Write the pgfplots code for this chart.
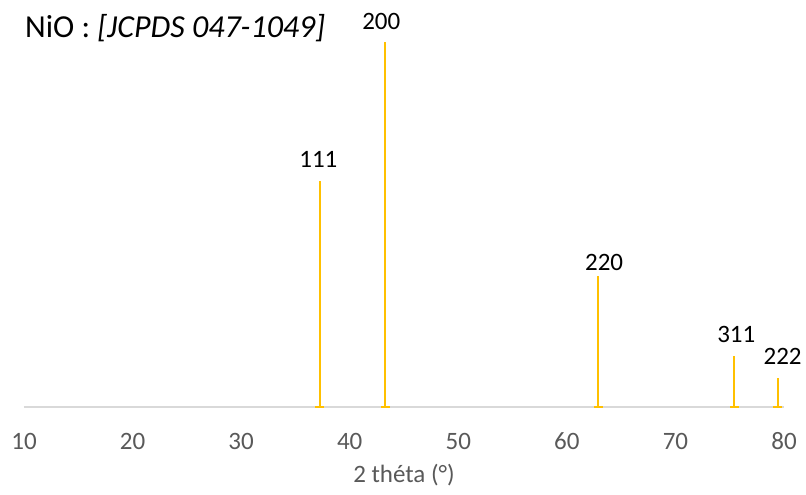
\documentclass[border=0pt]{standalone}
\usepackage{pgfplots}
\usepackage{pgfplotstable}
\pgfplotsset{compat=1.18}
\usepackage{fontspec}
\setmainfont{Carlito}
\definecolor{peak}{HTML}{FFC000}
\definecolor{axisgray}{HTML}{D9D9D9}
\definecolor{ticktext}{HTML}{595959}
\pgfplotstableread{
x y z dx dy lab
37.25 62 0 -1.5 0 111
43.28 100 0 -4 -1 200
62.88 36 0 6 -8 220
75.42 14 0 2 0 311
79.41 8 0 5 0 222
}\peaks
\begin{document}
\begin{tikzpicture}
\useasboundingbox (-24bp,-88bp) rectangle (782bp,407bp);
\begin{axis}[
  at={(0,0)}, anchor=south west,
  scale only axis,
  width=760bp, height=365bp,
  xmin=10, xmax=80, ymin=0, ymax=100,
  clip=false,
  axis x line=bottom,
  axis y line=none,
  x axis line style={axisgray, line width=1.5bp, -},
  xtick={10,20,...,80},
  major tick length=0pt,
  /pgf/number format/assume math mode=true,
  xticklabel style={anchor=center, yshift=-34bp, text=ticktext, font=\fontsize{25bp}{29bp}\selectfont},
  xlabel={2 théta (°)},
  xlabel style={at={(axis description cs:0.5,0)}, anchor=center, yshift=-68bp, text=ticktext, font=\fontsize{25bp}{29bp}\selectfont},
]
\addplot[ycomb, draw=peak, line width=1.8bp,
  visualization depends on=\thisrow{dx} \as \dx,
  visualization depends on=\thisrow{dy} \as \dy,
  nodes near coords, point meta=explicit symbolic,
  nodes near coords style={anchor=south, inner sep=0pt, xshift=\dx bp, yshift=12bp+\dy bp, text=black, font=\fontsize{25bp}{29bp}\selectfont}]
  table[x=x, y=y, meta=lab]{\peaks};
\addplot[only marks, mark=-, mark size=4.5bp, draw=peak, line width=1.5bp]
  table[x=x, y=z]{\peaks};
\end{axis}
\node[anchor=base west, inner sep=0pt, font=\fontsize{32bp}{36bp}\selectfont] at (1bp,369bp) {NiO : \textit{[JCPDS 047-1049]}};
\end{tikzpicture}
\end{document}
